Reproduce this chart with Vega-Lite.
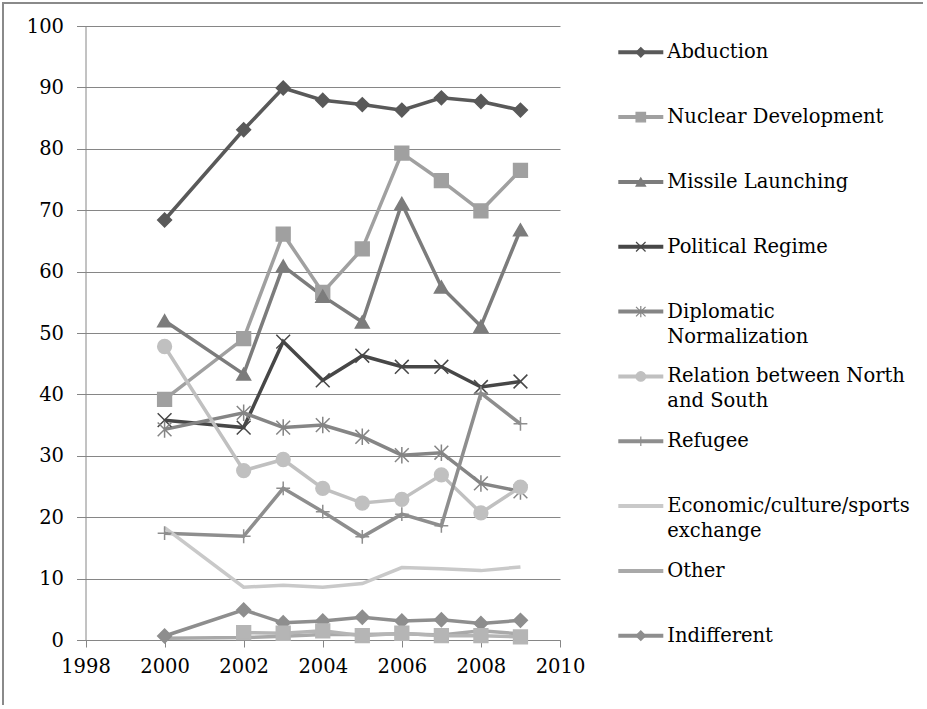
{
  "$schema": "https://vega.github.io/schema/vega-lite/v6.json",
  "width": 920,
  "height": 702,
  "autosize": "none",
  "padding": {"left": 3, "top": 3, "right": 4, "bottom": 4},
  "background": "white",
  "config": {
    "view": {"stroke": "#8a8a8a", "strokeWidth": 2, "strokeDash": [920, 1622, 702]},
    "font": "DejaVu Serif",
    "axis": {"labelFont": "DejaVu Serif", "labelFontSize": 19.5, "labelColor": "#000000", "domainColor": "#868686", "tickColor": "#868686", "gridColor": "#868686", "domainWidth": 1, "tickWidth": 1, "gridWidth": 1}
  },
  "resolve": {"scale": {"x": "independent", "y": "independent"}, "axis": {"x": "independent", "y": "independent"}},
  "layer": [
    {
      "data": {"values": [
        {"series": "Abduction", "year": 2000, "value": 68.4},
        {"series": "Abduction", "year": 2002, "value": 83.1},
        {"series": "Abduction", "year": 2003, "value": 89.9},
        {"series": "Abduction", "year": 2004, "value": 87.9},
        {"series": "Abduction", "year": 2005, "value": 87.2},
        {"series": "Abduction", "year": 2006, "value": 86.3},
        {"series": "Abduction", "year": 2007, "value": 88.3},
        {"series": "Abduction", "year": 2008, "value": 87.7},
        {"series": "Abduction", "year": 2009, "value": 86.3},
        {"series": "Nuclear Development", "year": 2000, "value": 39.2},
        {"series": "Nuclear Development", "year": 2002, "value": 49.1},
        {"series": "Nuclear Development", "year": 2003, "value": 66.1},
        {"series": "Nuclear Development", "year": 2004, "value": 56.6},
        {"series": "Nuclear Development", "year": 2005, "value": 63.7},
        {"series": "Nuclear Development", "year": 2006, "value": 79.3},
        {"series": "Nuclear Development", "year": 2007, "value": 74.8},
        {"series": "Nuclear Development", "year": 2008, "value": 69.9},
        {"series": "Nuclear Development", "year": 2009, "value": 76.5},
        {"series": "Missile Launching", "year": 2000, "value": 52.0},
        {"series": "Missile Launching", "year": 2002, "value": 43.3},
        {"series": "Missile Launching", "year": 2003, "value": 60.9},
        {"series": "Missile Launching", "year": 2004, "value": 56.0},
        {"series": "Missile Launching", "year": 2005, "value": 51.8},
        {"series": "Missile Launching", "year": 2006, "value": 71.1},
        {"series": "Missile Launching", "year": 2007, "value": 57.5},
        {"series": "Missile Launching", "year": 2008, "value": 51.1},
        {"series": "Missile Launching", "year": 2009, "value": 66.8},
        {"series": "Political Regime", "year": 2000, "value": 35.8},
        {"series": "Political Regime", "year": 2002, "value": 34.6},
        {"series": "Political Regime", "year": 2003, "value": 48.6},
        {"series": "Political Regime", "year": 2004, "value": 42.3},
        {"series": "Political Regime", "year": 2005, "value": 46.3},
        {"series": "Political Regime", "year": 2006, "value": 44.5},
        {"series": "Political Regime", "year": 2007, "value": 44.5},
        {"series": "Political Regime", "year": 2008, "value": 41.2},
        {"series": "Political Regime", "year": 2009, "value": 42.1},
        {"series": "Diplomatic Normalization", "year": 2000, "value": 34.3},
        {"series": "Diplomatic Normalization", "year": 2002, "value": 37.0},
        {"series": "Diplomatic Normalization", "year": 2003, "value": 34.6},
        {"series": "Diplomatic Normalization", "year": 2004, "value": 35.0},
        {"series": "Diplomatic Normalization", "year": 2005, "value": 33.1},
        {"series": "Diplomatic Normalization", "year": 2006, "value": 30.1},
        {"series": "Diplomatic Normalization", "year": 2007, "value": 30.5},
        {"series": "Diplomatic Normalization", "year": 2008, "value": 25.5},
        {"series": "Diplomatic Normalization", "year": 2009, "value": 24.2},
        {"series": "Relation between North and South", "year": 2000, "value": 47.8},
        {"series": "Relation between North and South", "year": 2002, "value": 27.6},
        {"series": "Relation between North and South", "year": 2003, "value": 29.4},
        {"series": "Relation between North and South", "year": 2004, "value": 24.7},
        {"series": "Relation between North and South", "year": 2005, "value": 22.3},
        {"series": "Relation between North and South", "year": 2006, "value": 22.9},
        {"series": "Relation between North and South", "year": 2007, "value": 26.9},
        {"series": "Relation between North and South", "year": 2008, "value": 20.7},
        {"series": "Relation between North and South", "year": 2009, "value": 24.9},
        {"series": "Refugee", "year": 2000, "value": 17.4},
        {"series": "Refugee", "year": 2002, "value": 16.9},
        {"series": "Refugee", "year": 2003, "value": 24.7},
        {"series": "Refugee", "year": 2004, "value": 20.9},
        {"series": "Refugee", "year": 2005, "value": 16.8},
        {"series": "Refugee", "year": 2006, "value": 20.5},
        {"series": "Refugee", "year": 2007, "value": 18.6},
        {"series": "Refugee", "year": 2008, "value": 40.2},
        {"series": "Refugee", "year": 2009, "value": 35.2},
        {"series": "Economic/culture/sports exchange", "year": 2000, "value": 18.3},
        {"series": "Economic/culture/sports exchange", "year": 2002, "value": 8.6},
        {"series": "Economic/culture/sports exchange", "year": 2003, "value": 8.9},
        {"series": "Economic/culture/sports exchange", "year": 2004, "value": 8.6},
        {"series": "Economic/culture/sports exchange", "year": 2005, "value": 9.2},
        {"series": "Economic/culture/sports exchange", "year": 2006, "value": 11.8},
        {"series": "Economic/culture/sports exchange", "year": 2007, "value": 11.6},
        {"series": "Economic/culture/sports exchange", "year": 2008, "value": 11.3},
        {"series": "Economic/culture/sports exchange", "year": 2009, "value": 11.9},
        {"series": "Other", "year": 2000, "value": 0.3},
        {"series": "Other", "year": 2002, "value": 0.4},
        {"series": "Other", "year": 2003, "value": 0.6},
        {"series": "Other", "year": 2004, "value": 0.9},
        {"series": "Other", "year": 2005, "value": 0.9},
        {"series": "Other", "year": 2006, "value": 1.0},
        {"series": "Other", "year": 2007, "value": 0.8},
        {"series": "Other", "year": 2008, "value": 1.5},
        {"series": "Other", "year": 2009, "value": 1.0},
        {"series": "Indifferent", "year": 2000, "value": 0.65},
        {"series": "Indifferent", "year": 2002, "value": 4.9},
        {"series": "Indifferent", "year": 2003, "value": 2.8},
        {"series": "Indifferent", "year": 2004, "value": 3.1},
        {"series": "Indifferent", "year": 2005, "value": 3.7},
        {"series": "Indifferent", "year": 2006, "value": 3.1},
        {"series": "Indifferent", "year": 2007, "value": 3.3},
        {"series": "Indifferent", "year": 2008, "value": 2.7},
        {"series": "Indifferent", "year": 2009, "value": 3.2},
        {"series": "No answer", "year": 2002, "value": 1.2},
        {"series": "No answer", "year": 2003, "value": 1.1},
        {"series": "No answer", "year": 2004, "value": 1.5},
        {"series": "No answer", "year": 2005, "value": 0.7},
        {"series": "No answer", "year": 2006, "value": 1.1},
        {"series": "No answer", "year": 2007, "value": 0.7},
        {"series": "No answer", "year": 2008, "value": 0.7},
        {"series": "No answer", "year": 2009, "value": 0.5}
      ]},
      "encoding": {
        "x": {"field": "year", "type": "quantitative",
              "scale": {"domain": [1998, 2010], "range": [82.5, 557], "nice": false, "zero": false},
              "axis": {"orient": "bottom", "offset": -65, "values": [1998, 2000, 2002, 2004, 2006, 2008, 2010], "format": "d", "grid": false, "tickSize": 7, "labelPadding": 10, "title": null, "labelFlush": false, "labelOverlap": false}},
        "y": {"field": "value", "type": "quantitative",
              "scale": {"domain": [0, 100], "range": [637, 23], "nice": false, "zero": false},
              "axis": {"orient": "left", "offset": -82.5, "values": [0, 10, 20, 30, 40, 50, 60, 70, 80, 90, 100], "grid": true, "tickSize": 9, "labelPadding": 13, "title": null, "labelFlush": false, "labelOverlap": false}}
      },
      "layer": [
        {
          "mark": {"type": "line", "strokeWidth": 3.5},
          "encoding": {
            "color": {"field": "series", "type": "nominal", "legend": null,
                      "scale": {"domain": ["Abduction", "Nuclear Development", "Missile Launching", "Political Regime", "Diplomatic Normalization", "Relation between North and South", "Refugee", "Economic/culture/sports exchange", "Other", "Indifferent", "No answer"],
                                "range": ["#595959", "#a0a0a0", "#7c7c7c", "#474747", "#858585", "#c0c0c0", "#8e8e8e", "#c9c9c9", "#a9a9a9", "#8e8e8e", "#b5b5b5"]}},
            "detail": {"field": "series"}
          }
        },
        {
          "transform": [{"filter": "datum.series !== 'Economic/culture/sports exchange' && datum.series !== 'Other'"}],
          "mark": {"type": "point", "filled": true, "opacity": 1, "size": 190, "strokeWidth": 1.5},
          "encoding": {
            "shape": {"field": "series", "type": "nominal", "legend": null,
                      "scale": {"domain": ["Abduction", "Nuclear Development", "Missile Launching", "Political Regime", "Diplomatic Normalization", "Relation between North and South", "Refugee", "Indifferent", "No answer"],
                                "range": ["diamond", "square", "triangle-up", "M-1,-1L1,1M-1,1L1,-1", "M-1,-1L1,1M-1,1L1,-1M0,-1.2L0,1.2", "circle", "M-1,0L1,0M0,-1L0,1", "diamond", "square"]}},
            "fill": {"field": "series", "type": "nominal", "legend": null,
                     "scale": {"domain": ["Abduction", "Nuclear Development", "Missile Launching", "Political Regime", "Diplomatic Normalization", "Relation between North and South", "Refugee", "Economic/culture/sports exchange", "Other", "Indifferent", "No answer"],
                               "range": ["#595959", "#a0a0a0", "#7c7c7c", "#474747", "#858585", "#c0c0c0", "#8e8e8e", "#c9c9c9", "#a9a9a9", "#8e8e8e", "#b5b5b5"]}},
            "stroke": {"field": "series", "type": "nominal", "legend": null,
                       "scale": {"domain": ["Abduction", "Nuclear Development", "Missile Launching", "Political Regime", "Diplomatic Normalization", "Relation between North and South", "Refugee", "Economic/culture/sports exchange", "Other", "Indifferent", "No answer"],
                                 "range": ["#595959", "#a0a0a0", "#7c7c7c", "#474747", "#858585", "#c0c0c0", "#8e8e8e", "#c9c9c9", "#a9a9a9", "#8e8e8e", "#b5b5b5"]}}
          }
        }
      ]
    },
    {
      "data": {"values": [
        {"series": "Abduction", "label": "Abduction"},
        {"series": "Nuclear Development", "label": "Nuclear Development"},
        {"series": "Missile Launching", "label": "Missile Launching"},
        {"series": "Political Regime", "label": "Political Regime"},
        {"series": "Diplomatic Normalization", "label": "Diplomatic\nNormalization"},
        {"series": "Relation between North and South", "label": "Relation between North\nand South"},
        {"series": "Refugee", "label": "Refugee"},
        {"series": "Economic/culture/sports exchange", "label": "Economic/culture/sports\nexchange"},
        {"series": "Other", "label": "Other"},
        {"series": "Indifferent", "label": "Indifferent"}
      ]},
      "encoding": {
        "y": {"field": "series", "type": "nominal", "axis": null,
              "scale": {"type": "point", "padding": 0, "range": [49.3, 632.7],
                        "domain": ["Abduction", "Nuclear Development", "Missile Launching", "Political Regime", "Diplomatic Normalization", "Relation between North and South", "Refugee", "Economic/culture/sports exchange", "Other", "Indifferent"]}}
      },
      "layer": [
        {
          "mark": {"type": "rule", "strokeWidth": 4},
          "encoding": {
            "x": {"datum": 0, "type": "quantitative", "scale": {"domain": [0, 1], "range": [615.3, 660.3], "nice": false, "zero": false}, "axis": null},
            "x2": {"datum": 1},
            "color": {"field": "series", "type": "nominal", "legend": null}
          }
        },
        {
          "transform": [{"filter": "datum.series !== 'Economic/culture/sports exchange' && datum.series !== 'Other'"}],
          "mark": {"type": "point", "filled": true, "opacity": 1, "size": 90, "strokeWidth": 1.2},
          "encoding": {
            "x": {"datum": 0.5, "type": "quantitative"},
            "shape": {"field": "series", "type": "nominal", "legend": null},
            "fill": {"field": "series", "type": "nominal", "legend": null},
            "stroke": {"field": "series", "type": "nominal", "legend": null}
          }
        },
        {
          "mark": {"type": "text", "align": "left", "baseline": "top", "dx": 4, "dy": -9, "lineBreak": "\n", "lineHeight": 25, "font": "DejaVu Serif", "fontSize": 19.5, "color": "#000000"},
          "encoding": {
            "x": {"datum": 1, "type": "quantitative"},
            "text": {"field": "label"}
          }
        }
      ]
    }
  ]
}
